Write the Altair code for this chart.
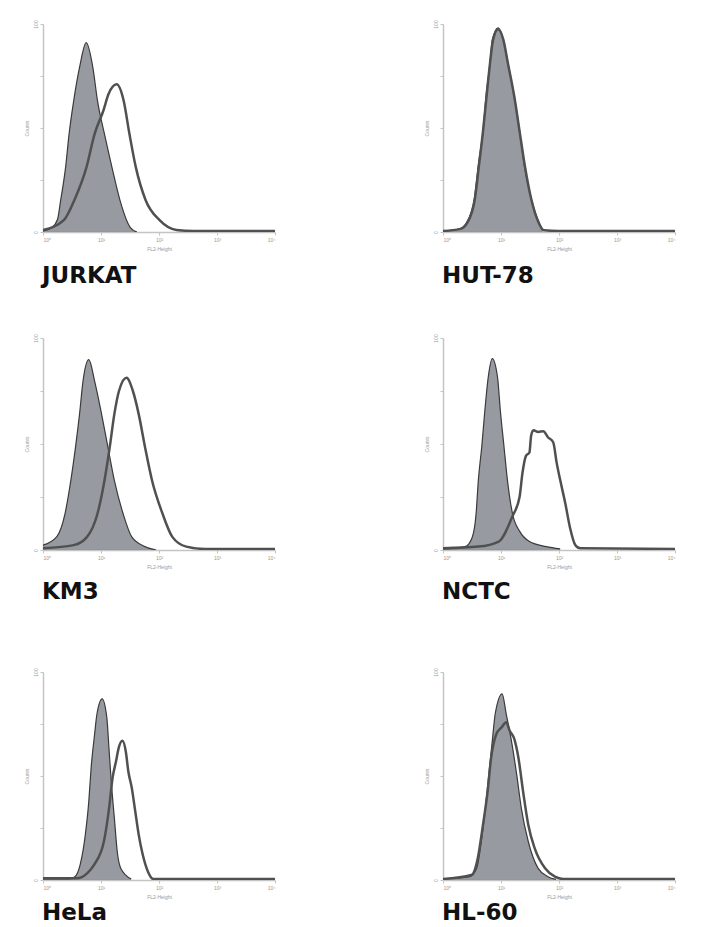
import altair as alt
import pandas as pd

panel_names = ["JURKAT", "HUT-78", "KM3", "NCTC", "HeLa", "HL-60"]

# log10 fluorescence (FL2-Height) and counts as % of axis maximum
jurkat_ctrl_x = [0.0, 0.15, 0.25, 0.305, 0.39, 0.45, 0.53, 0.63, 0.745, 0.86, 0.94, 1.06, 1.19, 1.33, 1.51, 1.62]
jurkat_ctrl_y = [0.5, 2.0, 6.0, 15.3, 31.2, 47.2, 63.2, 79.1, 91.0, 79.0, 63.0, 47.0, 31.0, 15.0, 2.0, 0.0]
jurkat_samp_x = [0.0, 0.36, 0.54, 0.75, 0.89, 1.04, 1.13, 1.27, 1.39, 1.49, 1.60, 1.77, 2.01, 2.30, 2.6, 4.0]
jurkat_samp_y = [1.0, 5.7, 15.3, 31.2, 47.2, 58.3, 66.3, 71.0, 63.2, 47.2, 31.2, 15.3, 5.7, 1.0, 0.5, 0.5]

hut_ctrl_x = [0.0, 0.29, 0.41, 0.54, 0.61, 0.69, 0.74, 0.81, 0.85, 0.95, 1.04, 1.12, 1.23, 1.32, 1.40, 1.52, 1.65, 1.72]
hut_ctrl_y = [0.5, 1.5, 4.7, 16.1, 32.4, 48.6, 64.9, 81.1, 92.5, 98.2, 92.5, 81.1, 64.9, 48.6, 32.4, 16.1, 4.7, 0.5]
hut_samp_x = [0.0, 0.30, 0.42, 0.55, 0.62, 0.69, 0.75, 0.81, 0.86, 0.95, 1.04, 1.12, 1.23, 1.32, 1.41, 1.52, 1.65, 1.74, 2.0, 4.0]
hut_samp_y = [0.5, 1.5, 4.5, 16.0, 32.0, 48.5, 65.0, 81.0, 92.0, 97.5, 92.5, 81.0, 65.0, 48.5, 32.0, 16.0, 4.5, 0.8, 0.5, 0.5]

km3_ctrl_x = [0.0, 0.235, 0.38, 0.48, 0.56, 0.63, 0.69, 0.79, 0.89, 1.01, 1.12, 1.23, 1.38, 1.53, 1.76, 1.95]
km3_ctrl_y = [2.3, 6.2, 17.2, 32.8, 48.4, 64.1, 79.7, 89.8, 79.7, 64.1, 48.4, 32.8, 17.2, 6.2, 1.6, 0.0]
km3_samp_x = [0.0, 0.53, 0.76, 0.94, 1.06, 1.15, 1.23, 1.31, 1.44, 1.55, 1.65, 1.76, 1.88, 2.06, 2.23, 2.47, 2.8, 4.0]
km3_samp_y = [0.8, 2.3, 6.2, 17.2, 32.8, 48.4, 64.1, 75.0, 81.2, 75.0, 64.1, 48.4, 32.8, 17.2, 6.2, 1.6, 0.5, 0.5]

nctc_ctrl_x = [0.0, 0.38, 0.50, 0.57, 0.61, 0.67, 0.72, 0.78, 0.85, 0.94, 0.99, 1.05, 1.11, 1.20, 1.32, 1.49, 1.78, 2.02]
nctc_ctrl_y = [0.5, 1.6, 5.7, 16.9, 33.1, 49.2, 65.3, 81.5, 90.3, 81.5, 65.3, 49.2, 33.1, 16.9, 8.9, 4.0, 1.6, 0.5]
nctc_samp_x = [0.0, 0.61, 0.96, 1.20, 1.32, 1.37, 1.43, 1.49, 1.52, 1.56, 1.64, 1.73, 1.81, 1.90, 1.96, 2.02, 2.11, 2.19, 2.28, 2.37, 4.0]
nctc_samp_y = [0.8, 1.6, 4.0, 16.1, 25.0, 36.3, 44.4, 46.0, 54.0, 56.5, 55.7, 56.0, 53.2, 50.8, 41.1, 33.1, 21.8, 10.5, 2.4, 0.8, 0.5]

hela_ctrl_x = [0.0, 0.45, 0.55, 0.64, 0.73, 0.79, 0.83, 0.89, 0.93, 1.02, 1.10, 1.14, 1.18, 1.23, 1.28, 1.34, 1.52]
hela_ctrl_y = [0.5, 0.5, 1.6, 7.3, 21.8, 37.9, 54.0, 70.2, 79.8, 87.1, 78.2, 62.1, 46.0, 29.9, 13.7, 5.7, 0.5]
hela_samp_x = [0.0, 0.58, 0.76, 0.88, 1.05, 1.14, 1.20, 1.26, 1.30, 1.37, 1.43, 1.47, 1.53, 1.59, 1.65, 1.72, 1.81, 1.90, 4.0]
hela_samp_y = [0.8, 0.8, 3.2, 7.3, 18.5, 34.7, 49.2, 57.2, 62.9, 66.9, 61.3, 52.4, 44.4, 33.1, 21.8, 12.1, 4.0, 0.5, 0.5]

hl60_ctrl_x = [0.0, 0.46, 0.58, 0.66, 0.73, 0.79, 0.85, 0.90, 1.02, 1.09, 1.18, 1.27, 1.35, 1.47, 1.64, 1.81, 1.95]
hl60_ctrl_y = [0.5, 1.6, 5.6, 18.5, 34.6, 50.8, 66.9, 79.8, 89.5, 79.8, 66.9, 50.8, 34.6, 18.5, 5.6, 1.6, 0.3]
hl60_samp_x = [0.0, 0.49, 0.60, 0.69, 0.77, 0.83, 0.92, 1.01, 1.09, 1.15, 1.23, 1.30, 1.38, 1.47, 1.58, 1.76, 1.93, 2.07, 4.0]
hl60_samp_y = [0.5, 2.4, 10.5, 26.6, 42.7, 58.8, 70.2, 73.4, 75.8, 71.8, 67.7, 58.8, 42.7, 26.6, 15.3, 5.6, 1.6, 0.5, 0.5]

x_ticks = [0, 1, 2, 3, 4]
y_ticks = [0, 25, 50, 75, 100]

series = [
    (jurkat_ctrl_x, jurkat_ctrl_y, jurkat_samp_x, jurkat_samp_y),
    (hut_ctrl_x, hut_ctrl_y, hut_samp_x, hut_samp_y),
    (km3_ctrl_x, km3_ctrl_y, km3_samp_x, km3_samp_y),
    (nctc_ctrl_x, nctc_ctrl_y, nctc_samp_x, nctc_samp_y),
    (hela_ctrl_x, hela_ctrl_y, hela_samp_x, hela_samp_y),
    (hl60_ctrl_x, hl60_ctrl_y, hl60_samp_x, hl60_samp_y),
]

W = 232
row_heights = [208, 212, 208]
title_offsets = [14, 12, 3]

AX = dict(
    grid=False,
    domainColor="#c4c4c4",
    domainWidth=1.5,
    tickColor="#c4c4c4",
    tickSize=3,
    labelFontSize=5,
    labelColor="#9a9a9a",
    titleFontSize=5,
    titleColor="#9a9a9a",
    titleFontWeight="normal",
    labelPadding=2,
    titlePadding=4,
)


def make_panel(name, cx, cy, sx, sy, h, off):
    ctrl = pd.DataFrame({"x": cx, "y": cy})
    samp = pd.DataFrame({"x": sx, "y": sy})
    xenc = alt.X(
        "x:Q",
        scale=alt.Scale(domain=[0, 4], nice=False),
        axis=alt.Axis(
            values=x_ticks,
            labelExpr="'10' + ['⁰','¹','²','³','⁴'][datum.value]",
            title="FL2-Height",
            **AX,
        ),
    )
    yenc = alt.Y(
        "y:Q",
        scale=alt.Scale(domain=[0, 100], nice=False),
        axis=alt.Axis(
            values=y_ticks,
            labelExpr="datum.value == 0 || datum.value == 100 ? datum.label : ''",
            title="Counts",
            labelAngle=270,
            labelAlign="center",
            labelBaseline="bottom",
            **AX,
        ),
    )
    area = alt.Chart(ctrl).mark_area(
        interpolate="monotone",
        color="#6b7179",
        line={"color": "#3a3a3a", "strokeWidth": 1.2},
        clip=True,
    ).encode(x=xenc, y=yenc)
    line = alt.Chart(samp).mark_line(
        interpolate="monotone", color="#505050", strokeWidth=2.5, clip=True
    ).encode(x=xenc, y=yenc)
    return alt.layer(area, line).properties(
        width=W,
        height=h,
        title=alt.TitleParams(
            name,
            orient="bottom",
            anchor="start",
            fontSize=23,
            fontWeight="bold",
            font="DejaVu Sans",
            color="#111111",
            offset=off,
            dx=18,
        ),
    )


panels = [
    make_panel(n, *s, row_heights[i // 2], title_offsets[i // 2])
    for i, (n, s) in enumerate(zip(panel_names, series))
]
rows = [alt.hconcat(panels[i], panels[i + 1], spacing=148) for i in (0, 2, 4)]
top_two = alt.vconcat(rows[0], rows[1], spacing=45)
chart = (
    alt.vconcat(top_two, rows[2], spacing=63)
    .properties(padding={"left": 16, "top": 11, "right": 5, "bottom": 5})
    .configure_view(stroke=None)
)

chart.save("out.html", embed_options={"renderer": "svg", "actions": False})
